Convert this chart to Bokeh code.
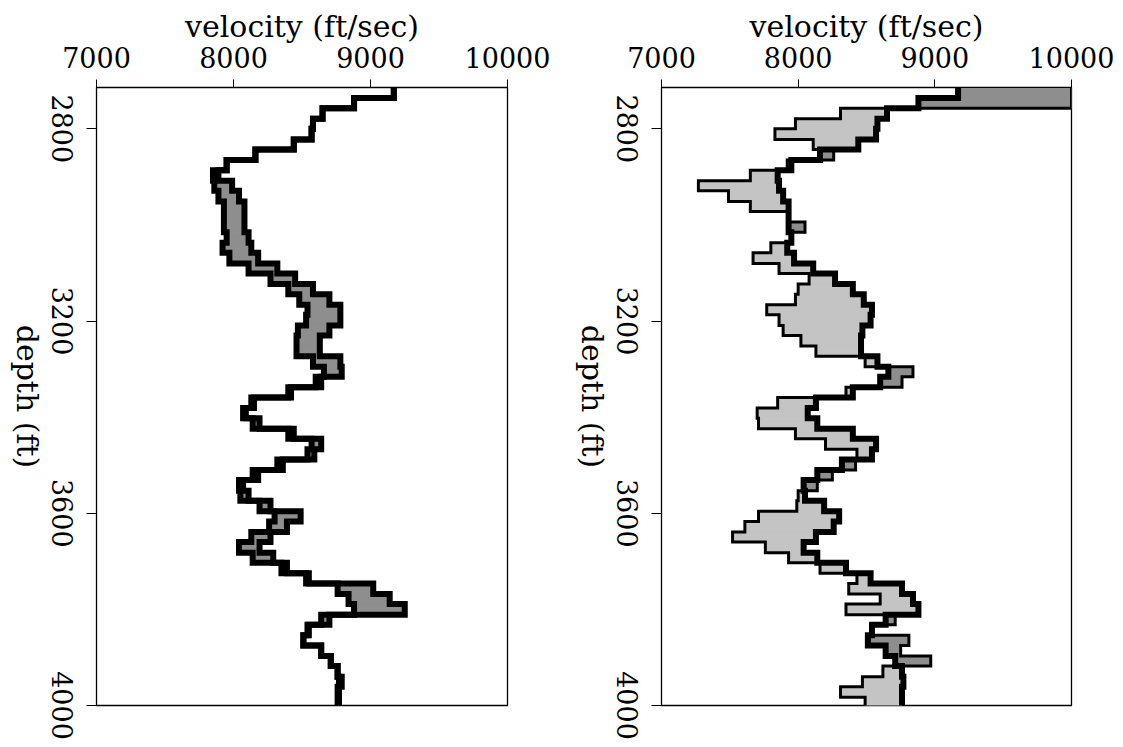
import math
from bokeh.plotting import figure
from bokeh.models import Range1d, FixedTicker, GridBox, Column
from bokeh.embed import file_html
from bokeh.resources import INLINE

# ---- data ----
velocity_ticks = [7000, 8000, 9000, 10000]
depth_ticks = [2800, 3200, 3600, 4000]

# depth boundaries of the log samples (ft)
depth_edges = [2714, 2736, 2757, 2779, 2800, 2822, 2843, 2865, 2886, 2908,
               2929, 2951, 2972, 2994, 3015, 3037, 3058, 3080, 3101, 3123,
               3144, 3166, 3187, 3209, 3230, 3252, 3273, 3295, 3316, 3338,
               3359, 3381, 3402, 3424, 3445, 3467, 3488, 3510, 3531, 3553,
               3574, 3596, 3617, 3639, 3660, 3682, 3703, 3725, 3746, 3768,
               3789, 3811, 3832, 3854, 3875, 3897, 3918, 3940, 3961, 3983,
               4004]

# true velocity log (thick curve, same in both panels)
true_velocity = [9170, 8880, 8650, 8580, 8570, 8440, 8160, 7950, 7850, 7860,
                 7890, 7930, 7930, 7930, 7950, 7920, 7970, 8110, 8270, 8400,
                 8480, 8540, 8530, 8470, 8460, 8460, 8580, 8660, 8600, 8400,
                 8130, 8070, 8140, 8400, 8570, 8540, 8320, 8140, 8040, 8050,
                 8190, 8300, 8260, 8130, 8040, 8140, 8350, 8530, 8760, 8840,
                 8880, 8640, 8540, 8510, 8640, 8710, 8760, 8770, 8760, 8760]

# estimated velocity, left panel
estimate_left = [9170, 8880, 8650, 8580, 8570, 8440, 8160, 7950, 7890, 7990,
                 8040, 8080, 8080, 8080, 8110, 8130, 8180, 8320, 8450, 8580,
                 8700, 8780, 8780, 8700, 8630, 8630, 8780, 8790, 8640, 8420,
                 8150, 8090, 8190, 8440, 8640, 8590, 8360, 8180, 8070, 8110,
                 8270, 8490, 8390, 8270, 8190, 8290, 8390, 8550, 9020, 9140,
                 9250, 8700, 8550, 8510, 8640, 8710, 8760, 8790, 8770, 8770]

# estimated velocity, right panel
estimate_right = [10000, 10000, 8310, 7980, 7830, 8110, 8260, 7920, 7650, 7270,
                  7490, 7650, 7930, 8050, 7950, 7800, 7670, 7860, 8080, 8000,
                  7980, 7770, 7860, 7890, 8020, 8130, 8490, 8840, 8760, 8350,
                  7850, 7700, 7710, 7980, 8200, 8430, 8420, 8250, 8140, 8000,
                  7990, 7710, 7610, 7520, 7760, 7930, 8160, 8430, 8370, 8600,
                  8350, 8710, 8540, 8810, 8750, 8970, 8620, 8470, 8310, 8490]

depth_title = "depth (ft)"

FONT = "DejaVu Serif"
LIGHT = "#c4c4c4"
DARK = "#8e8e8e"
VMIN, VMAX = 7000, 10000
DTOP, DBOT = 2714, 4000
FIG_H, B_TOP, B_BOT = 740, 87, 35


def step_path(vals):
    xs, ys = [], []
    for i, v in enumerate(vals):
        xs += [v, v]
        ys += [depth_edges[i], depth_edges[i + 1]]
    return xs, ys


def make_panel(estimate, est_width, width, bl, br):
    p = figure(width=width, height=FIG_H,
               x_range=Range1d(VMIN, VMAX), y_range=Range1d(DBOT, DTOP),
               x_axis_location="above", output_backend="svg",
               toolbar_location=None,
               min_border_left=bl, min_border_right=br,
               min_border_top=B_TOP, min_border_bottom=B_BOT)
    p.xgrid.visible = False
    p.ygrid.visible = False
    p.outline_line_color = "black"
    p.outline_line_width = 1.3
    p.background_fill_color = "white"
    p.border_fill_color = "white"

    lefts, rights, tops, bottoms, colors = [], [], [], [], []
    for i, (t, e) in enumerate(zip(true_velocity, estimate)):
        if t == e:
            continue
        lefts.append(min(t, e))
        rights.append(max(t, e))
        tops.append(depth_edges[i])
        bottoms.append(depth_edges[i + 1])
        colors.append(DARK if e > t else LIGHT)
    p.quad(left=lefts, right=rights, top=tops, bottom=bottoms,
           fill_color=colors, line_color=colors, line_width=1)

    ex, ey = step_path(estimate)
    p.line(ex, ey, line_color="black", line_width=est_width,
           line_join="miter")
    tx, ty = step_path(true_velocity)
    p.line(tx, ty, line_color="black", line_width=6, line_join="miter")

    xa = p.xaxis[0]
    xa.ticker = FixedTicker(ticks=velocity_ticks)
    xa.minor_tick_line_color = None
    xa.major_tick_in = 0
    xa.major_tick_out = 8
    xa.major_label_standoff = 12
    xa.major_label_text_font = FONT
    xa.major_label_text_font_size = "27px"
    xa.major_label_text_color = "black"
    xa.axis_label = "velocity (ft/sec)"
    xa.axis_label_text_font = FONT
    xa.axis_label_text_font_size = "30px"
    xa.axis_label_text_font_style = "normal"
    xa.axis_label_text_color = "black"
    xa.axis_label_standoff = 0
    xa.axis_line_color = "black"
    xa.major_tick_line_color = "black"

    ya = p.yaxis[0]
    ya.ticker = FixedTicker(ticks=depth_ticks)
    ya.minor_tick_line_color = None
    ya.major_tick_in = 0
    ya.major_tick_out = 10
    ya.major_label_overrides = {t: "" for t in depth_ticks}
    ya.axis_line_color = "black"
    ya.major_tick_line_color = "black"
    return p


W1, W2 = 557, 562
p1 = make_panel(estimate_left, 6, W1, 96, 50)
p2 = make_panel(estimate_right, 3, W2, 104, 48)

# transparent overlay carrying the clockwise-rotated depth texts
frame_h = FIG_H - B_TOP - B_BOT
k = frame_h / (DBOT - DTOP)            # pixels per foot
aux = figure(width=W1 + W2, height=FIG_H,
             x_range=Range1d(0, W1 + W2),
             y_range=Range1d(DTOP + (FIG_H - B_TOP) / k, DTOP - B_TOP / k),
             x_axis_location=None, y_axis_location=None,
             output_backend="svg", toolbar_location=None,
             min_border=0, min_border_left=0, min_border_right=0,
             min_border_top=0, min_border_bottom=0)
aux.xgrid.visible = False
aux.ygrid.visible = False
aux.outline_line_color = None
aux.background_fill_color = None
aux.border_fill_color = None
has_align = "frame_align" in aux.properties()
if has_align:
    aux.frame_align = False

frame_lefts = [96, W1 + 104]
for fl in frame_lefts:
    aux.text(x=[fl - 34] * len(depth_ticks), y=depth_ticks,
             text=[str(t) for t in depth_ticks], angle=-math.pi / 2,
             text_align="center", text_baseline="middle",
             text_font={"value": FONT}, text_font_size={"value": "27px"},
             text_color="black")
    aux.text(x=[fl - 69], y=[(DTOP + DBOT) / 2], text=[depth_title],
             angle=-math.pi / 2, text_align="center", text_baseline="middle",
             text_font={"value": FONT}, text_font_size={"value": "30px"},
             text_color="black")

aux_item = aux if has_align else Column(aux)
grid = GridBox(children=[(p1, 0, 0), (p2, 0, 1), (aux_item, 0, 0, 1, 2)])

open("out.html", "w").write(file_html(grid, INLINE))
